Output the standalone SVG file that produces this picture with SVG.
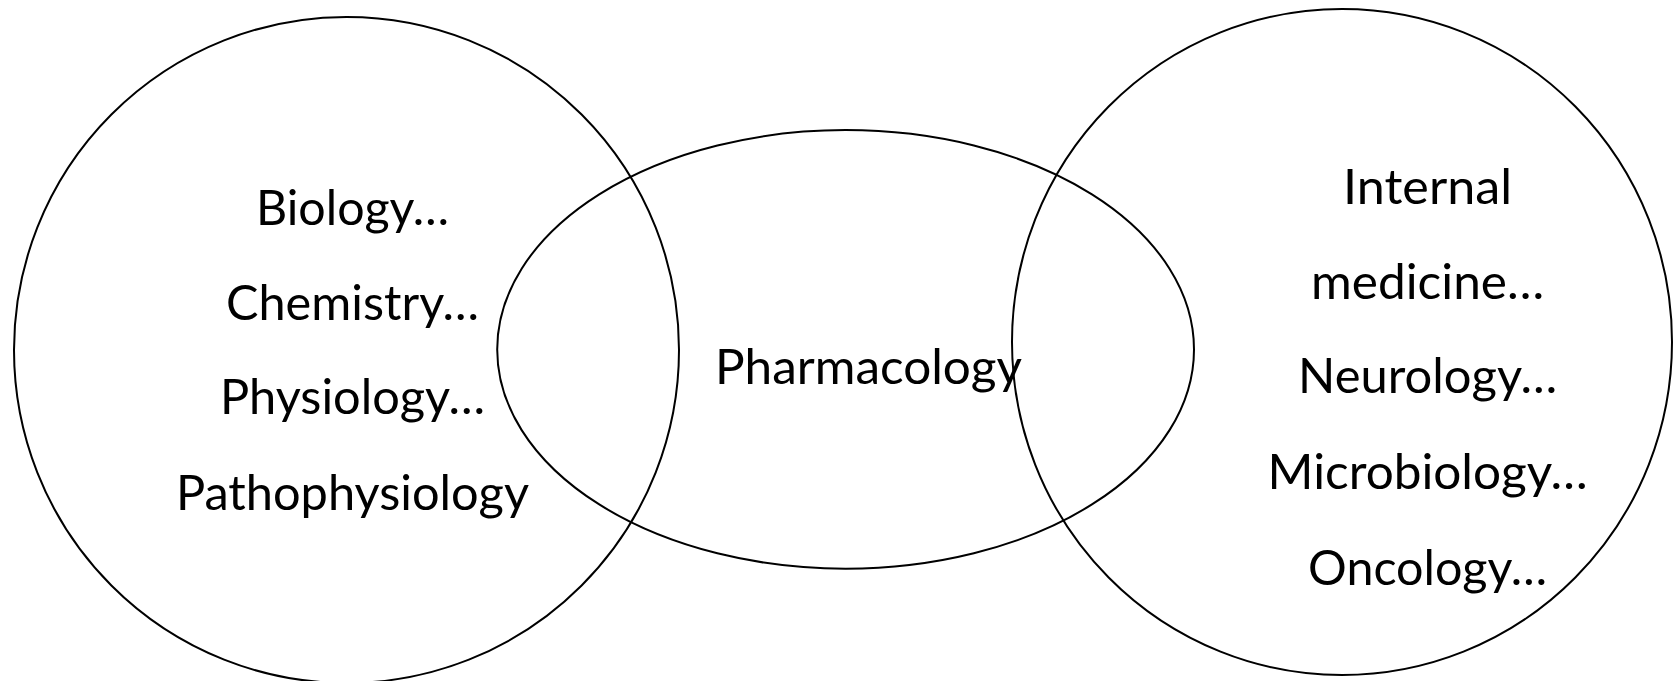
<svg xmlns="http://www.w3.org/2000/svg" width="1673" height="681" viewBox="0 0 1673 681">
<style>
.ring{fill:none;stroke:#000;stroke-width:2}
.t{font-family:Lato,"Open Sans","Liberation Sans",sans-serif;font-size:48px;fill:#000;text-anchor:middle}
</style>
<rect width="1673" height="681" fill="#fff"/>
<g id="connectors"></g>
<g id="left">
<ellipse class="ring" cx="346.5" cy="350" rx="332.5" ry="333"/>
<text class="t" x="352.5" y="225" textLength="193" lengthAdjust="spacingAndGlyphs">Biology…</text>
<text class="t" x="352.5" y="320" textLength="253" lengthAdjust="spacingAndGlyphs">Chemistry…</text>
<text class="t" x="352.5" y="414" textLength="265" lengthAdjust="spacingAndGlyphs">Physiology…</text>
<text class="t" x="352.5" y="510" textLength="353" lengthAdjust="spacingAndGlyphs">Pathophysiology</text>
</g>
<g id="middle">
<ellipse class="ring" cx="845.6" cy="349.4" rx="348.4" ry="219.3"/>
<text class="t" x="868.5" y="384" textLength="307" lengthAdjust="spacingAndGlyphs">Pharmacology</text>
</g>
<g id="right">
<ellipse class="ring" cx="1342" cy="342" rx="330" ry="333"/>
<text class="t" x="1427.6" y="204" textLength="169" lengthAdjust="spacingAndGlyphs">Internal</text>
<text class="t" x="1427.6" y="299" textLength="233" lengthAdjust="spacingAndGlyphs">medicine…</text>
<text class="t" x="1427.6" y="393" textLength="259" lengthAdjust="spacingAndGlyphs">Neurology…</text>
<text class="t" x="1427.6" y="489" textLength="320" lengthAdjust="spacingAndGlyphs">Microbiology…</text>
<text class="t" x="1427.6" y="585" textLength="239" lengthAdjust="spacingAndGlyphs">Oncology…</text>
</g>
</svg>
